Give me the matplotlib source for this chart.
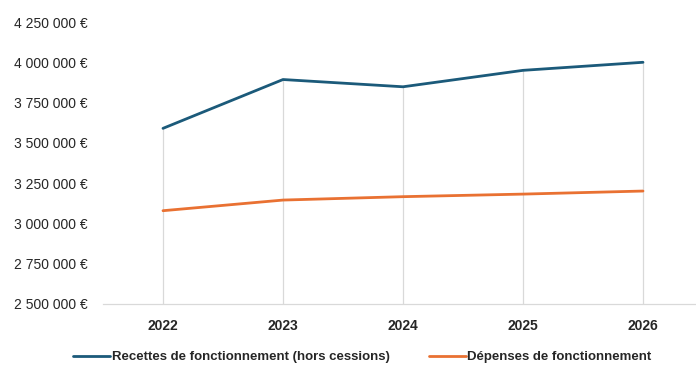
import matplotlib
matplotlib.use("Agg")
import matplotlib.pyplot as plt
from matplotlib.ticker import FuncFormatter

years = ["2022", "2023", "2024", "2025", "2026"]
recettes = [3590000, 3893000, 3848000, 3950000, 4000000]
depenses = [3079000, 3145000, 3166000, 3182000, 3201000]
y_ticks = [2500000, 2750000, 3000000, 3250000, 3500000, 3750000, 4000000, 4250000]

plt.rcParams['font.family'] = ['Liberation Sans', 'DejaVu Sans']

W, H = 696, 365
fig = plt.figure(figsize=(W / 100, H / 100), dpi=100)
left, right = 103 / W, 703 / W
top, bottom = 1 - 22 / H, 1 - 304 / H
ax = fig.add_axes([left, bottom, right - left, top - bottom])

x = list(range(len(years)))
blue = "#1b5a7a"
orange = "#e97132"
ymin = y_ticks[0]
# drop lines from the highest series down to the axis
ax.vlines(x, ymin, [max(a, b) for a, b in zip(recettes, depenses)], color="#d9d9d9", lw=0.9, zorder=1)
ax.plot(x, recettes, color=blue, lw=2.0, solid_capstyle='round', zorder=3,
        label="Recettes de fonctionnement (hors cessions)")
ax.plot(x, depenses, color=orange, lw=2.0, solid_capstyle='round', zorder=3,
        label="Dépenses de fonctionnement")

ax.set_xlim(-0.5, 4.5)
ax.set_ylim(ymin, y_ticks[-1])
ax.set_yticks(y_ticks)
ax.yaxis.set_major_formatter(FuncFormatter(lambda v, p: f"{int(v):,}".replace(",", " ") + " €"))
ax.set_xticks(x)
ax.set_xticklabels(years)

ax.grid(False)
for s in ['top', 'right', 'left']:
    ax.spines[s].set_visible(False)
ax.spines['bottom'].set_color("#d9d9d9")
ax.spines['bottom'].set_linewidth(0.9)
ax.tick_params(axis='both', length=0)
ax.tick_params(axis='y', pad=11, labelsize=10, labelcolor="#262626")
ax.tick_params(axis='x', pad=11, labelsize=10, labelcolor="#262626")
for t in ax.get_xticklabels():
    t.set_fontweight('bold')

leg = fig.legend(loc='center', bbox_to_anchor=(0.521, 1 - 357 / H), ncol=2, frameon=False,
                 handlelength=2.8, handletextpad=0.1, columnspacing=3.0,
                 prop={'size': 9.5, 'weight': 'bold'})
for t in leg.get_texts():
    t.set_color("#262626")

fig.savefig("out.png", dpi=100)
